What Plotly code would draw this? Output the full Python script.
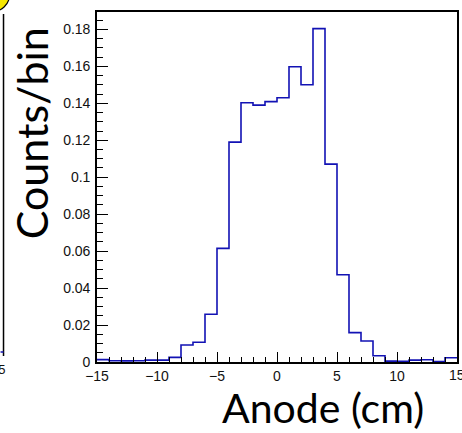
import plotly.graph_objects as go

# Histogram data: 1 cm bins from -15 to 15
bin_edges = list(range(-15, 16))
counts = [0.0013, 0.0007, 0.0006, 0.0007, 0.0010, 0.0010, 0.0025, 0.0092, 0.0107, 0.0258,
          0.0615, 0.1190, 0.1403, 0.1390, 0.1409, 0.1430, 0.1598, 0.1500, 0.1804, 0.1071,
          0.0472, 0.0159, 0.0114, 0.0034, 0.0005, 0.0004, 0.0010, 0.0012, 0.0002, 0.0023]

x_ticks = [-15, -10, -5, 0, 5, 10]
x_ticklabels = ["\u221215", "\u221210", "\u22125", "0", "5", "10"]
x_last_tick = 15
x_last_label = "15"
y_ticks = [0, 0.02, 0.04, 0.06, 0.08, 0.1, 0.12, 0.14, 0.16, 0.18]
y_ticklabels = ["0", "0.02", "0.04", "0.06", "0.08", "0.1", "0.12", "0.14", "0.16", "0.18"]

xs = bin_edges[:-1] + [bin_edges[-1]]
ys = counts + [counts[-1]]

fig = go.Figure()
fig.add_trace(go.Scatter(x=xs, y=ys, mode="lines", line=dict(color="#1212b4", width=1.6, shape="hv"),
                         hoverinfo="skip", showlegend=False))

axis_font = dict(family="Liberation Sans, Arial, sans-serif", size=14, color="#111")
fig.update_layout(
    width=462, height=433,
    margin=dict(l=97, r=3, t=12, b=71),
    paper_bgcolor="white", plot_bgcolor="white",
    showlegend=False,
    xaxis=dict(range=[-15, 15], tickmode="array", tickvals=x_ticks, ticktext=x_ticklabels,
               ticks="inside", ticklen=10, tickwidth=1.2, tickcolor="black",
               minor=dict(dtick=1, ticks="inside", ticklen=5, tickwidth=1.2, tickcolor="black"),
               showgrid=False, zeroline=False, showline=True, linecolor="black", linewidth=1.6,
               mirror=True, tickfont=axis_font),
    yaxis=dict(range=[0, 0.1894], tickmode="array", tickvals=y_ticks, ticktext=y_ticklabels,
               ticks="inside", ticklen=11, tickwidth=1.2, tickcolor="black",
               minor=dict(dtick=0.005, ticks="inside", ticklen=6, tickwidth=1.2, tickcolor="black"),
               showgrid=False, zeroline=False, showline=True, linecolor="black", linewidth=1.6,
               mirror=True, tickfont=axis_font, ticklabelstandoff=2),
)

# last x tick label sits on the right border and is partly cut, as in the reference
fig.add_annotation(text=x_last_label, xref="x", yref="paper", x=x_last_tick, y=0, yshift=-3,
                   xanchor="center", yanchor="top", showarrow=False, font=axis_font)

title_font = dict(family="Lato, Noto Sans, sans-serif", size=43, color="black")
fig.add_annotation(text="Counts/bin", xref="paper", yref="paper", x=-97/362 + 31/362, y=(433-71-133)/350,
                   xanchor="center", yanchor="middle", textangle=-90, showarrow=False, font=title_font)
fig.add_annotation(text="Anode (cm)", xref="paper", yref="paper", x=(324-97)/362, y=-(407-362)/350,
                   xanchor="center", yanchor="middle", showarrow=False,
                   font=dict(family="Lato, Noto Sans, sans-serif", size=41, color="black"))

# Neighbouring-panel fragments at the left edge of the cropped picture
fig.add_shape(type="line", xref="paper", yref="paper", x0=-94/362, x1=-94/362,
              y0=(362-14)/350, y1=(362-356)/350, line=dict(color="black", width=1.5))
fig.add_shape(type="line", xref="paper", yref="paper", x0=-97/362, x1=-94/362,
              y0=(362-352)/350, y1=(362-352)/350, line=dict(color="#1212b4", width=1.5))
fig.add_shape(type="circle", xref="paper", yref="paper", x0=-125/362, x1=-88/362,
              y0=(362+22)/350, y1=(362-12)/350, fillcolor="#f5e600", line=dict(color="black", width=1.2))
fig.add_annotation(text="15", xref="paper", yref="paper", x=-91/362, y=-(369-362)/350,
                   xanchor="right", yanchor="middle", showarrow=False,
                   font=dict(family="Liberation Sans, Arial, sans-serif", size=13, color="#111"))

fig.write_html("out.html")
